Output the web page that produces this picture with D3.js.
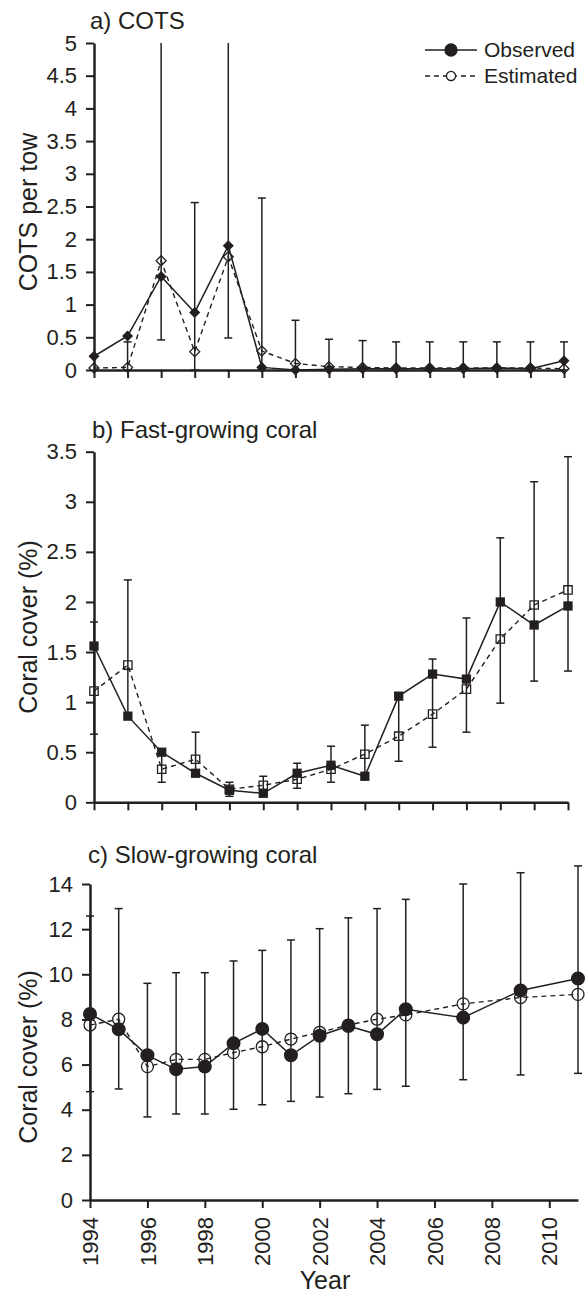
<!DOCTYPE html>
<html>
<head>
<meta charset="utf-8">
<script src="https://cdn.jsdelivr.net/npm/d3@7"></script>
<style>
  body { margin:0; background:#fff; }
  svg text { font-family: "Liberation Sans", Arial, Helvetica, sans-serif; fill:#231f20; }
</style>
</head>
<body>
<svg id="drawing_region"></svg>
<script>
// sampled years (panels a and b are drawn with equal spacing, panel c on a year scale)
var years = [1994,1995,1996,1997,1998,1999,2000,2001,2002,2003,2004,2005,2007,2009,2011];

// a) COTS per tow
var cotsObserved  = [0.21,0.52,1.43,0.88,1.90,0.04,0.00,0.01,0.02,0.02,0.02,0.02,0.03,0.02,0.14];
var cotsEstimated = [0.03,0.04,1.67,0.28,1.73,0.29,0.10,0.05,0.04,0.03,0.03,0.03,0.03,0.03,0.02];
var cotsLower     = [null,0,0.46,0,0.49,0,0,0,0,0,0,0,0,0,0];
var cotsUpper     = [null,0.43,6.5,2.56,6.5,2.63,0.76,0.47,0.45,0.43,0.43,0.43,0.43,0.43,0.43];
var cotsTicks     = [0,0.5,1,1.5,2,2.5,3,3.5,4,4.5,5];

// b) fast-growing coral cover (%)
var fastObserved  = [1.56,0.86,0.50,0.29,0.12,0.09,0.29,0.37,0.26,1.06,1.28,1.23,2.00,1.77,1.96];
var fastEstimated = [1.11,1.37,0.33,0.43,0.13,0.17,0.23,0.33,0.48,0.66,0.88,1.13,1.63,1.97,2.12];
var fastLower     = [0.68,0.86,0.20,0.29,0.06,0.09,0.14,0.20,0.26,0.41,0.55,0.70,0.99,1.21,1.31];
var fastUpper     = [1.80,2.22,0.50,0.70,0.20,0.26,0.39,0.56,0.77,1.06,1.43,1.84,2.64,3.20,3.45];
var fastTicks     = [0,0.5,1,1.5,2,2.5,3,3.5];

// c) slow-growing coral cover (%)
var slowObserved  = [8.24,7.56,6.41,5.79,5.91,6.94,7.58,6.41,7.28,7.71,7.34,8.45,8.08,9.28,9.81];
var slowEstimated = [7.75,8.01,5.91,6.23,6.23,6.53,6.79,7.13,7.43,7.75,8.01,8.20,8.69,8.97,9.11];
var slowLower     = [4.80,4.92,3.68,3.81,3.81,4.02,4.22,4.37,4.56,4.71,4.90,5.04,5.33,5.54,5.61];
var slowUpper     = [12.58,12.91,9.60,10.07,10.07,10.59,11.06,11.52,12.02,12.50,12.91,13.32,14.00,14.50,14.80];
var slowTicks     = [0,2,4,6,8,10,12,14];
var yearTicks     = [1994,1996,1998,2000,2002,2004,2006,2008,2010];

var legendItems = ['Observed','Estimated'];

const INK = '#231f20';

const svg = d3.select('#drawing_region')
    .attr('width', 586)
    .attr('height', 1293);

function rows(obs, est, lo, hi) {
    return years.map((y, i) => ({year:y, obs:obs[i], est:est[i], lo:lo[i], hi:hi[i]}));
}

class ErrorPlot {

    constructor( config, data ) {
        this.config = config;
        this.data = data;
        this.init();
    }

    init() {
        let self = this;
        let c = self.config;
        self.chart = svg.append('g');

        if (c.xtype == 'point') {
            self.xscale = d3.scalePoint().domain(years).range([c.left, c.right]);
        } else {
            self.xscale = d3.scaleLinear().domain([1994, 2011]).range([c.left, c.right]);
        }
        self.yscale = d3.scaleLinear().domain([0, c.ymax]).range([c.bottom, c.top]);

        self.xaxis = d3.axisBottom(self.xscale)
            .tickSize(8)
            .tickSizeOuter(0);
        if (c.xtype == 'point') self.xaxis.tickFormat('');
        else self.xaxis.tickValues(yearTicks).tickFormat(d3.format('d'));

        self.yaxis = d3.axisLeft(self.yscale)
            .tickValues(c.yticks)
            .tickFormat(d3.format('~g'))
            .tickSize(8)
            .tickSizeOuter(0)
            .tickPadding(9);
    }

    render() {
        let self = this;
        let c = self.config;
        const x = d => self.xscale(d.year);
        // bars taller than the clip value run to the top of the axis, no cap
        const top = d => Math.min(d.hi, c.clip);

        // error bars
        const bars = self.chart.append('g')
            .attr('stroke', INK)
            .attr('stroke-width', 1.5);
        const withBar = self.data.filter(d => d.hi != null);
        bars.selectAll('line.bar')
            .data(withBar)
            .join('line')
            .attr('x1', x).attr('x2', x)
            .attr('y1', d => self.yscale(d.lo))
            .attr('y2', d => self.yscale(top(d)));
        bars.selectAll('line.capHi')
            .data(withBar.filter(d => d.hi <= c.clip))
            .join('line')
            .attr('x1', d => x(d) - 4).attr('x2', d => x(d) + 4)
            .attr('y1', d => self.yscale(d.hi)).attr('y2', d => self.yscale(d.hi));
        bars.selectAll('line.capLo')
            .data(withBar)
            .join('line')
            .attr('x1', d => x(d) - 4).attr('x2', d => x(d) + 4)
            .attr('y1', d => self.yscale(d.lo)).attr('y2', d => self.yscale(d.lo));

        // lines
        const estLine = d3.line().x(x).y(d => self.yscale(d.est));
        const obsLine = d3.line().x(x).y(d => self.yscale(d.obs));
        self.chart.append('path')
            .datum(self.data)
            .attr('d', estLine)
            .attr('fill', 'none')
            .attr('stroke', INK)
            .attr('stroke-width', 1.4)
            .attr('stroke-dasharray', '5,4');
        self.chart.append('path')
            .datum(self.data)
            .attr('d', obsLine)
            .attr('fill', 'none')
            .attr('stroke', INK)
            .attr('stroke-width', 1.5);

        // axes
        self.xaxis_group = self.chart.append('g')
            .attr('transform', `translate(0, ${c.bottom})`)
            .call(self.xaxis)
            .call(g => g.style('color', INK).attr('font-size', null).attr('font-family', null))
            .call(g => g.select('.domain').attr('stroke-width', 2.5))
            .call(g => g.selectAll('.tick line').attr('stroke-width', 2));
        self.yaxis_group = self.chart.append('g')
            .attr('transform', `translate(${c.left}, 0)`)
            .call(self.yaxis)
            .call(g => g.style('color', INK).attr('font-size', null).attr('font-family', null))
            .call(g => g.select('.domain').attr('stroke-width', 2.5))
            .call(g => g.selectAll('.tick line').attr('stroke-width', 2))
            .call(g => g.selectAll('.tick text').style('font-size', '22px'));

        if (c.xtype != 'point') {
            self.xaxis_group.selectAll('.tick text')
                .attr('transform', 'rotate(-90)')
                .attr('x', -17).attr('y', 0).attr('dy', '0.35em')
                .style('text-anchor', 'end')
                .style('font-size', '22px');
        }

        // markers: open (estimated) then filled (observed)
        const estSym = d3.symbol().type(c.symbol).size(c.openSize);
        const obsSym = d3.symbol().type(c.symbol).size(c.fillSize);
        self.chart.append('g').selectAll('path')
            .data(self.data)
            .join('path')
            .attr('d', estSym)
            .attr('transform', d => `translate(${x(d)}, ${self.yscale(d.est)}) rotate(${c.rotate})`)
            .attr('fill', 'none')
            .attr('stroke', INK)
            .attr('stroke-width', 1.3);
        self.chart.append('g').selectAll('path')
            .data(self.data)
            .join('path')
            .attr('d', obsSym)
            .attr('transform', d => `translate(${x(d)}, ${self.yscale(d.obs)}) rotate(${c.rotate})`)
            .attr('fill', INK);

        // title and y label
        self.chart.append('text')
            .attr('x', c.titleX).attr('y', c.titleY)
            .style('font-size', '24px')
            .text(c.title);
        self.chart.append('text')
            .attr('transform', `translate(${c.labelX}, ${c.labelY}) rotate(-90)`)
            .attr('text-anchor', 'middle')
            .attr('dy', '0.35em')
            .style('font-size', '25px')
            .text(c.ylabel);
    }
}

const cotsPlot = new ErrorPlot({
    xtype:'point', left:94, right:564, top:43, bottom:370, ymax:5, clip:5, yticks:cotsTicks,
    symbol:d3.symbolSquare, rotate:45, fillSize:61, openSize:50,
    title:'a) COTS', titleX:90, titleY:29, ylabel:'COTS per tow', labelX:28, labelY:212
}, rows(cotsObserved, cotsEstimated, cotsLower, cotsUpper));
cotsPlot.render();

const fastPlot = new ErrorPlot({
    xtype:'point', left:94, right:568, top:451.7, bottom:802.3, ymax:3.5, clip:Infinity, yticks:fastTicks,
    symbol:d3.symbolSquare, rotate:0, fillSize:86, openSize:70,
    title:'b) Fast-growing coral', titleX:92, titleY:438, ylabel:'Coral cover (%)', labelX:28, labelY:627
}, rows(fastObserved, fastEstimated, fastLower, fastUpper));
fastPlot.render();

const slowPlot = new ErrorPlot({
    xtype:'year', left:90, right:578, top:884, bottom:1200, ymax:14, clip:Infinity, yticks:slowTicks,
    symbol:d3.symbolCircle, rotate:0, fillSize:154, openSize:113,
    title:'c) Slow-growing coral', titleX:88, titleY:863, ylabel:'Coral cover (%)', labelX:28, labelY:1057
}, rows(slowObserved, slowEstimated, slowLower, slowUpper));
slowPlot.render();

// x axis title
svg.append('text')
    .attr('x', 325).attr('y', 1289)
    .attr('text-anchor', 'middle')
    .style('font-size', '25px')
    .text('Year');

// legend
const legend = svg.append('g');
legend.selectAll('line')
    .data(legendItems)
    .join('line')
    .attr('x1', 425).attr('x2', 477)
    .attr('y1', (d, i) => 50 + i * 26).attr('y2', (d, i) => 50 + i * 26)
    .attr('stroke', INK)
    .attr('stroke-width', 1.5)
    .attr('stroke-dasharray', (d, i) => i == 0 ? null : '5,4');
legend.selectAll('path')
    .data(legendItems)
    .join('path')
    .attr('d', (d, i) => d3.symbol().type(d3.symbolCircle).size(i == 0 ? 113 : 66)())
    .attr('transform', (d, i) => `translate(451, ${50 + i * 26})`)
    .attr('fill', (d, i) => i == 0 ? INK : '#fff')
    .attr('stroke', INK)
    .attr('stroke-width', 1.3);
legend.selectAll('text')
    .data(legendItems)
    .join('text')
    .attr('x', 484).attr('y', (d, i) => 50 + i * 26)
    .attr('dy', '0.35em')
    .style('font-size', '21px')
    .text(d => d);
</script>
</body>
</html>
